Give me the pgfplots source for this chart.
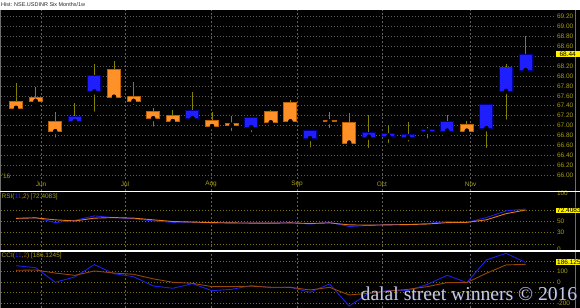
\documentclass[border=0pt]{standalone}
\usepackage{pgfplots}
\pgfplotsset{compat=1.18}
\usepackage{pgfplotstable}
\usepackage{fontspec}
\setmainfont{Liberation Sans}
\newfontfamily\wmfont{Liberation Serif}

\definecolor{olivetxt}{RGB}{170,160,20}
\definecolor{gridgray}{RGB}{95,95,95}
\definecolor{gridol}{RGB}{125,115,0}
\definecolor{wick}{RGB}{130,130,0}
\definecolor{upfill}{RGB}{30,30,255}
\definecolor{upedge}{RGB}{0,0,150}
\definecolor{dnfill}{RGB}{255,145,40}
\definecolor{dnedge}{RGB}{190,95,0}
\definecolor{rsiblue}{RGB}{30,30,235}
\definecolor{rsiorange}{RGB}{230,120,20}
\definecolor{cciorange}{RGB}{150,70,10}
\definecolor{wmtext}{RGB}{200,204,218}
\definecolor{wmshadow}{RGB}{20,20,70}
\definecolor{framegray}{RGB}{110,110,110}
\definecolor{titlegray}{RGB}{40,40,40}

% weekly candles: index, open, high, low, close
\pgfplotstableread{
i O H L C
1 67.48 67.85 67.28 67.36
2 67.55 67.78 67.40 67.50
3 67.07 67.27 66.72 66.89
4 67.09 67.45 67.09 67.17
5 67.69 68.24 67.24 67.99
6 68.11 68.30 67.58 67.58
7 67.58 67.88 67.38 67.50
8 67.27 67.35 66.94 67.15
9 67.19 67.31 67.09 67.09
10 67.15 67.68 67.15 67.29
11 67.09 67.27 66.99 66.99
12 67.03 67.19 66.85 67.02
13 66.97 67.15 66.83 67.15
14 67.27 67.31 66.98 67.07
15 67.45 67.52 67.05 67.09
16 66.75 66.90 66.52 66.90
17 67.09 67.27 66.91 67.09
18 67.05 67.25 66.62 66.66
19 66.78 67.21 66.51 66.86
20 66.79 67.01 66.61 66.84
21 66.77 67.07 66.64 66.81
22 66.90 66.98 66.70 66.91
23 66.90 67.21 66.81 67.07
24 67.02 67.10 66.86 66.90
25 66.95 67.42 66.51 67.42
26 67.70 68.24 67.08 68.17
27 68.12 68.81 68.05 68.43
}\ohlc

% rising candles: body low / high
\pgfplotstableread{
i lo hi
4 67.09 67.17
5 67.69 67.99
10 67.15 67.29
13 66.97 67.15
16 66.75 66.90
19 66.78 66.86
20 66.79 66.84
21 66.77 66.81
22 66.90 66.91
23 66.90 67.07
25 66.95 67.42
26 67.70 68.17
27 68.12 68.43
}\up

% falling candles: body low / high
\pgfplotstableread{
i lo hi
1 67.36 67.48
2 67.50 67.55
3 66.89 67.07
6 67.58 68.11
7 67.50 67.58
8 67.15 67.27
9 67.09 67.19
11 66.99 67.09
12 67.02 67.03
14 67.07 67.27
15 67.09 67.45
17 67.09 67.09
18 66.66 67.05
24 66.90 67.02
}\down

\pgfplotstableread{
i rsi sig
1 55.6 55.6
2 57 56.5
3 48 53
4 52 51
5 60 56
6 57 57
7 55 56
8 51 53
9 48.5 50
10 49 49
11 47.5 48
12 47.5 47.5
13 47 47.2
14 47 47
15 48 47.5
16 45.5 46.5
17 48.5 47.5
18 41 44
19 43 43.5
20 44.5 44
21 44.5 44.5
22 46.5 45.5
23 50 48
24 48.5 48.5
25 57 53
26 69 64
27 72.4 70.5
}\rsi

\pgfplotstableread{
i cci sig
1 155 111
2 136 114
3 -3 85
4 48 63
5 165 105
6 79 85
7 50 73
8 -38 30
9 -60 -3
10 -16 -13
11 -83 -44
12 -70 -44
13 -35 -40
14 -54 -50
15 -51 -51
16 -98 -76
17 -19 -51
18 -229 -124
19 -108 -108
20 -83 -87
21 -83 -70
22 -22 -44
23 64 -6
24 -6 -6
25 210 83
26 273 162
27 186 168
}\cci

\pgfplotsset{
  panel/.style={
    scale only axis, width=554bp, anchor=south west,
    xmin=0.2347, xmax=28.5,
    axis line style={draw=none},
    major tick length=0pt, tick style={draw=none},
    xtick={2.28,6.56,10.95,15.34,19.67,24.2},
    xmajorgrids,
    x grid style={gridgray, dash pattern=on 2bp off 2bp, line width=0.6bp},
    yticklabel pos=right,
    yticklabel style={font=\fontsize{6.5}{7}\selectfont, text=olivetxt, anchor=west, xshift=-1.5bp},
    /pgf/number format/assume math mode=true,
  },
}

\begin{document}
\begin{tikzpicture}
\useasboundingbox (0,0) rectangle (580bp,308bp);
\fill[black] (0,0) rectangle (580bp,298bp);
\fill[white] (0,298bp) rectangle (580bp,308bp);
\node[anchor=west, inner sep=0, font=\fontsize{5.5}{6}\selectfont, text=titlegray] at (1bp,303.5bp) {Hist: NSE.USDINR Six Months/1w};

% ---------- price panel ----------
\begin{axis}[panel,
  at={(1bp,116.5bp)}, height=181.5bp,
  ymin=65.675, ymax=69.327,
  ytick={66.0,66.2,66.4,66.6,66.8,67.0,67.2,67.4,67.6,67.8,68.0,68.2,68.4,68.6,68.8,69.0,69.2},
  yticklabels={66.00,66.20,66.40,66.60,66.80,67.00,67.20,67.40,67.60,67.80,68.00,68.20,,68.60,68.80,69.00,69.20},
  ymajorgrids,
  y grid style={gridgray, dash pattern=on 1bp off 2bp, line width=0.6bp},
  xticklabels={Jun,Jul,Aug,Sep,Oct,Nov},
  xticklabel style={font=\fontsize{6.5}{7}\selectfont, text=olivetxt, anchor=south, yshift=1bp},
]
\addplot[only marks, mark=none, forget plot,
  error bars/.cd, y dir=plus, y explicit, error mark=none,
  error bar style={line width=1bp, draw=wick}]
  table[x=i, y=L, y error expr=\thisrow{H}-\thisrow{L}] {\ohlc};
\addplot[only marks, mark=none, forget plot,
  error bars/.cd, y dir=plus, y explicit, error mark=none,
  error bar style={line width=14bp, draw=dnedge}]
  table[x=i, y expr=\thisrow{lo}-0.02, y error expr=\thisrow{hi}-\thisrow{lo}+0.04] {\down};
\addplot[only marks, mark=none, forget plot,
  error bars/.cd, y dir=plus, y explicit, error mark=none,
  error bar style={line width=12bp, draw=dnfill}]
  table[x=i, y=lo, y error expr=\thisrow{hi}-\thisrow{lo}] {\down};
\addplot[only marks, mark=none, forget plot,
  error bars/.cd, y dir=plus, y explicit, error mark=none,
  error bar style={line width=14bp, draw=upedge}]
  table[x=i, y expr=\thisrow{lo}-0.02, y error expr=\thisrow{hi}-\thisrow{lo}+0.04] {\up};
\addplot[only marks, mark=none, forget plot,
  error bars/.cd, y dir=plus, y explicit, error mark=none,
  error bar style={line width=12bp, draw=upfill}]
  table[x=i, y=lo, y error expr=\thisrow{hi}-\thisrow{lo}] {\up};
\end{axis}

% ---------- RSI panel ----------
\begin{axis}[panel,
  at={(1bp,57bp)}, height=59.5bp,
  ymin=-2.7, ymax=103.6,
  ytick={10,30,50,70}, yticklabels={,30,50,},
  extra y ticks={0,100}, extra y tick labels={0,100},
  extra y tick style={grid=none},
  ymajorgrids,
  y grid style={gridol, dash pattern=on 1bp off 2bp, line width=0.6bp},
  xticklabels={},
]
\addplot[rsiblue, line width=0.9bp] table[x=i, y=rsi] {\rsi};
\addplot[rsiorange, line width=0.9bp] table[x=i, y=sig] {\rsi};
\end{axis}

% ---------- CCI panel ----------
\begin{axis}[panel,
  at={(1bp,0bp)}, height=57bp,
  ymin=-248, ymax=295,
  ytick={-200,-100,0,100,200}, yticklabels={-200,,0,100,},
  ymajorgrids,
  y grid style={gridol, dash pattern=on 1bp off 2bp, line width=0.6bp},
  xticklabels={},
]
\addplot[rsiblue, line width=0.9bp] table[x=i, y=cci] {\cci};
\addplot[cciorange, line width=0.9bp] table[x=i, y=sig] {\cci};
\end{axis}

% frame and separators
\draw[framegray, line width=0.8bp] (0.5bp,0) -- (0.5bp,298bp);
\draw[framegray, line width=0.8bp] (575.5bp,0) -- (575.5bp,298bp);
\draw[white, line width=1.2bp] (0,116.5bp) -- (580bp,116.5bp);
\draw[white, line width=1.2bp] (0,57bp) -- (580bp,57bp);

% panel captions
\node[anchor=west, inner sep=0.5bp, font=\fontsize{6.5}{7}\selectfont, text=olivetxt] at (1bp,132bp) {'16};
\node[anchor=north west, inner sep=0.5bp, font=\fontsize{6.5}{7}\selectfont] at (1bp,115bp)
  {\textcolor{olivetxt}{RSI(}\textcolor{rsiblue}{11}\textcolor{olivetxt}{,}\textcolor{rsiorange}{2}\textcolor{olivetxt}{) [72.4083]}};
\node[anchor=north west, inner sep=0.5bp, font=\fontsize{6.5}{7}\selectfont] at (1bp,55.5bp)
  {\textcolor{olivetxt}{CCI(}\textcolor{rsiblue}{11}\textcolor{olivetxt}{,}\textcolor{cciorange}{2}\textcolor{olivetxt}{) [186.1245]}};

% last-value boxes
\node[anchor=west, fill=yellow, inner xsep=1.5bp, inner ysep=0.6bp, minimum width=24bp, text=black, font=\fontsize{6.5}{7}\selectfont] at (555.5bp,254bp) {68.44};
\node[anchor=west, fill=yellow, inner xsep=1.5bp, inner ysep=0.6bp, minimum width=24bp, text=black, font=\fontsize{6.5}{7}\selectfont] at (555.5bp,97.5bp) {72.4083};
\node[anchor=west, fill=yellow, inner xsep=1.5bp, inner ysep=0.6bp, minimum width=24bp, text=black, font=\fontsize{6.5}{7}\selectfont] at (555.5bp,46bp) {186.125};

% watermark
\node[anchor=base west, inner sep=0, font=\wmfont\fontsize{19.7}{21}\selectfont, text=wmshadow] at (361.2bp,7.4bp) {dalal street winners © 2016};
\node[anchor=base west, inner sep=0, font=\wmfont\fontsize{19.7}{21}\selectfont, text=wmtext] at (360.5bp,8bp) {dalal street winners © 2016};
\end{tikzpicture}
\end{document}
